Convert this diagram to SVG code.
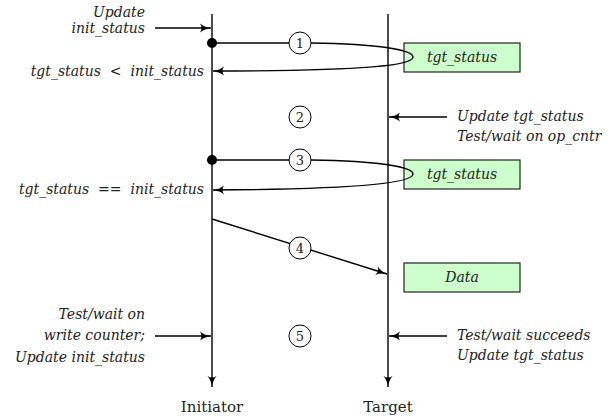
<svg xmlns="http://www.w3.org/2000/svg" width="616" height="420" viewBox="0 0 616 420">
<defs>
<marker id="ah" markerWidth="12" markerHeight="10" viewBox="0 0 12 10" refX="11" refY="5" orient="auto" markerUnits="userSpaceOnUse">
<path d="M0,0.5 Q4,4 11,5 Q4,6 0,9.5 Q3,5 0,0.5 Z" fill="#000"/>
</marker>
<style>
.ln{stroke:#000;stroke-width:1.4;fill:none}
.t{font-family:"DejaVu Serif",serif;font-style:italic;font-size:14px;fill:#222}
.r{font-family:"DejaVu Serif",serif;font-size:13px;fill:#222}
.lab{font-family:"DejaVu Serif",serif;font-size:15px;fill:#222}
.box{fill:#ccffcc;stroke:#222;stroke-width:1.2}
.c{fill:#fff;stroke:#000;stroke-width:1}
</style>
</defs>
<g id="box1"><rect class="box" x="404" y="43" width="116" height="29"/><text class="t" x="462" y="62" text-anchor="middle">tgt_status</text></g>
<g id="box2"><rect class="box" x="404" y="160" width="116" height="29"/><text class="t" x="462" y="179" text-anchor="middle">tgt_status</text></g>
<g id="box3"><rect class="box" x="404" y="263" width="116" height="29"/><text class="t" x="462" y="282" text-anchor="middle">Data</text></g>
<g id="initiator">
<line class="ln" x1="212" y1="14" x2="212" y2="387" marker-end="url(#ah)"/>
<text class="lab" x="212" y="412" text-anchor="middle">Initiator</text>
</g>
<g id="target">
<line class="ln" x1="388" y1="14" x2="388" y2="387" marker-end="url(#ah)"/>
<text class="lab" x="388" y="412" text-anchor="middle">Target</text>
</g>
<g id="connectors">
<line class="ln" x1="155" y1="28" x2="211" y2="28" marker-end="url(#ah)"/>
<path class="ln" d="M212,43 L289,43 M311,43 C380,44 413,50 413,57 C413,64 380,71 213,71" marker-end="url(#ah)"/>
<line class="ln" x1="447" y1="117" x2="389" y2="117" marker-end="url(#ah)"/>
<path class="ln" d="M212,160 L289,160 M311,160 C380,161 413,167 413,174 C413,181 380,189 213,190" marker-end="url(#ah)"/>
<line class="ln" x1="212" y1="219" x2="387" y2="274" marker-end="url(#ah)"/>
<line class="ln" x1="155" y1="336" x2="211" y2="336" marker-end="url(#ah)"/>
<line class="ln" x1="447" y1="336" x2="389" y2="336" marker-end="url(#ah)"/>
<circle cx="212" cy="43" r="5" fill="#000"/>
<circle cx="212" cy="160" r="5" fill="#000"/>
</g>
<g id="n1"><circle class="c" cx="300" cy="43" r="11"/><text class="r" x="300" y="47.5" text-anchor="middle">1</text></g>
<g id="n2"><circle class="c" cx="300" cy="117" r="11"/><text class="r" x="300" y="121.5" text-anchor="middle">2</text></g>
<g id="n3"><circle class="c" cx="300" cy="160" r="11"/><text class="r" x="300" y="164.5" text-anchor="middle">3</text></g>
<g id="n4"><circle class="c" cx="300" cy="248" r="11"/><text class="r" x="300" y="252.5" text-anchor="middle">4</text></g>
<g id="n5"><circle class="c" cx="300" cy="336" r="11"/><text class="r" x="300" y="340.5" text-anchor="middle">5</text></g>
<g id="labels">
<text class="t" x="145" y="17" text-anchor="end">Update</text>
<text class="t" x="145" y="33" text-anchor="end">init_status</text>
<text class="t" x="204" y="76" text-anchor="end">tgt_status&#160;&#160;&lt;&#160;&#160;init_status</text>
<text class="t" x="457" y="121">Update tgt_status</text>
<text class="t" x="457" y="141">Test/wait on op_cntr</text>
<text class="t" x="204" y="194" text-anchor="end">tgt_status&#160;&#160;==&#160;&#160;init_status</text>
<text class="t" x="145" y="319" text-anchor="end">Test/wait on</text>
<text class="t" x="145" y="340" text-anchor="end">write counter;</text>
<text class="t" x="145" y="362" text-anchor="end">Update init_status</text>
<text class="t" x="457" y="340">Test/wait succeeds</text>
<text class="t" x="457" y="360">Update tgt_status</text>
</g>
</svg>
